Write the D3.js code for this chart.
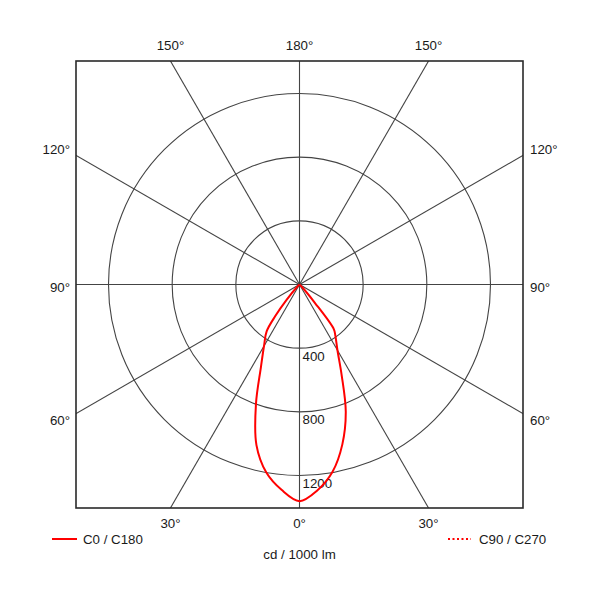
<!DOCTYPE html>
<html>
<head>
<meta charset="utf-8">
<script src="https://cdn.jsdelivr.net/npm/d3@7/dist/d3.min.js"></script>
<style>
  html, body { margin: 0; padding: 0; background: #fff; }
  text { font-family: Arial, "Liberation Sans", Helvetica, sans-serif; fill: #1a1a1a; }
</style>
</head>
<body>
<svg id="chart" width="600" height="600"></svg>
<script>
// ---- data ----
const angles = [0, 5, 10, 15, 20, 25, 30, 35, 37.5, 40, 45, 50, 55, 60, 65, 70, 75, 80, 85, 90];
const c0 = [1358, 1298, 1195, 1040, 850, 626, 477, 393, 355, 150, 20, 0, 0, 0, 0, 0, 0, 0, 0, 0];      // right half (C0)
const c180 = [1361, 1295, 1200, 1045, 800, 574, 446, 360, 250, 130, 20, 0, 0, 0, 0, 0, 0, 0, 0, 0];  // left half (C180)
const ringValues = [400, 800, 1200];
const spokeAngles = [0, 30, 60, 90, 120, 150, 180, 210, 240, 270, 300, 330];
const angleTicks = [0, 30, 60, 90, 120, 150, 180];
const legendLabels = ["C0 / C180", "C90 / C270"];
const unitLabel = "cd / 1000 lm";

// ---- layout ----
const svg = d3.select("#chart");
const cx = 299.5, cy = 284.5, half = 223.5;
const r = d3.scaleLinear().domain([0, 1200]).range([0, 191]);
const rad = d => d * Math.PI / 180;
const gridColor = "#444";

const g = svg.append("g").attr("transform", `translate(${cx},${cy})`);

svg.append("defs").append("clipPath").attr("id", "box")
  .append("rect").attr("x", -half).attr("y", -half).attr("width", 2 * half).attr("height", 2 * half);

const grid = g.append("g").attr("clip-path", "url(#box)");

// rings
grid.selectAll("circle.ring").data(ringValues).join("circle")
  .attr("class", "ring").attr("r", d => r(d))
  .attr("fill", "none").attr("stroke", gridColor).attr("stroke-width", 1.1);

// spokes (0° pointing down)
const far = r.invert(half * 2);
grid.selectAll("line.spoke").data(spokeAngles).join("line")
  .attr("class", "spoke")
  .attr("x1", 0).attr("y1", 0)
  .attr("x2", d => r(far) * Math.sin(rad(d)))
  .attr("y2", d => r(far) * Math.cos(rad(d)))
  .attr("stroke", gridColor).attr("stroke-width", 1.1);

// box
g.append("rect").attr("x", -half).attr("y", -half).attr("width", 2 * half).attr("height", 2 * half)
  .attr("fill", "none").attr("stroke", "#2a2a2a").attr("stroke-width", 1.6);

// ring value labels
g.selectAll("text.rv").data(ringValues).join("text")
  .attr("class", "rv")
  .attr("x", 3).attr("y", d => r(d) + 8)
  .attr("dominant-baseline", "central")
  .attr("font-size", "13.3px")
  .text(d => d);

// angle labels
const angleLabelData = [];
angleTicks.forEach(a => {
  const sides = (a === 0 || a === 180) ? [1] : [-1, 1];
  sides.forEach(s => {
    const sx = s * Math.sin(rad(a)), sy = Math.cos(rad(a));
    const t = half / Math.max(Math.abs(sx), Math.abs(sy));
    const px = t * sx, py = t * sy;
    let x, y, anchor;
    if (Math.abs(sy) > Math.abs(sx) + 1e-9) {
      x = px; anchor = "middle";
      y = sy > 0 ? half + 15 : -half - 16;
    } else {
      x = s < 0 ? -half - 6 : half + 7;
      anchor = s < 0 ? "end" : "start";
      y = py + (sy < -0.01 ? -6 : (sy > 0.01 ? 7 : 3));
    }
    angleLabelData.push({ a, x, y, anchor });
  });
});
g.selectAll("text.al").data(angleLabelData).join("text")
  .attr("class", "al")
  .attr("x", d => d.x).attr("y", d => d.y)
  .attr("text-anchor", d => d.anchor)
  .attr("dominant-baseline", "central")
  .attr("font-size", "13.3px")
  .text(d => d.a + "°");

// curve C0/C180
const pts = [];
for (let i = angles.length - 1; i >= 0; i--) pts.push({ ang: Math.PI + rad(angles[i]), v: c180[i] });
for (let i = 1; i < angles.length; i++) pts.push({ ang: Math.PI - rad(angles[i]), v: c0[i] });
const radial = d3.lineRadial().angle(d => d.ang).radius(d => r(d.v)).curve(d3.curveCatmullRom.alpha(0.5));
g.append("path").attr("d", radial(pts))
  .attr("fill", "none").attr("stroke", "#ff0000").attr("stroke-width", 2).attr("stroke-linejoin", "round");

// legend
const leg = svg.append("g");
leg.append("line").attr("x1", 52).attr("x2", 77).attr("y1", 539).attr("y2", 539)
  .attr("stroke", "#ff0000").attr("stroke-width", 2);
leg.append("text").attr("x", 83).attr("y", 539).attr("dominant-baseline", "central")
  .attr("font-size", "13.3px").text(legendLabels[0]);
leg.append("line").attr("x1", 448).attr("x2", 471).attr("y1", 539).attr("y2", 539)
  .attr("stroke", "#ff0000").attr("stroke-width", 2).attr("stroke-dasharray", "2,2.5");
leg.append("text").attr("x", 479).attr("y", 539).attr("dominant-baseline", "central")
  .attr("font-size", "13.3px").text(legendLabels[1]);
svg.append("text").attr("x", cx).attr("y", 554).attr("text-anchor", "middle")
  .attr("dominant-baseline", "central").attr("font-size", "13.3px").text(unitLabel);
</script>
</body>
</html>
